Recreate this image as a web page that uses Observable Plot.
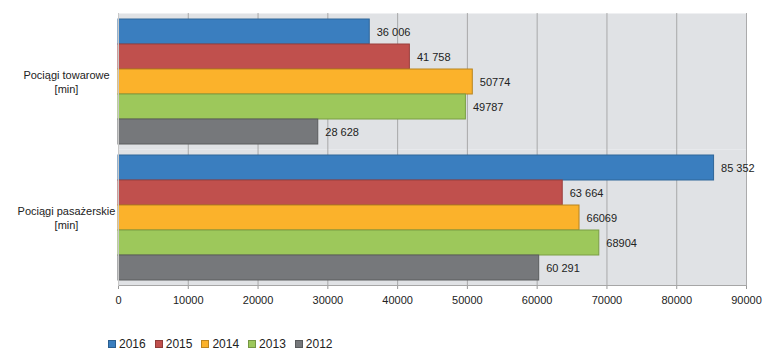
<!DOCTYPE html>
<html>
<head>
<meta charset="utf-8">
<script src="https://cdn.jsdelivr.net/npm/d3@7"></script>
<script src="https://cdn.jsdelivr.net/npm/@observablehq/plot@0.6"></script>
<style>
  body { margin: 0; background: #fff; font-family: "Liberation Sans", Arial, sans-serif; }
  #legend { display: flex; gap: 0; padding-left: 108px; padding-top: 17px; font-size: 12px; color: #222; }
  .item { display: flex; align-items: center; margin-right: 9px; }
  .sw { width: 8px; height: 8px; margin-right: 3px; box-sizing: border-box; border: 1px solid rgba(0,0,0,0.25); }
</style>
</head>
<body>
<div id="chart"></div>
<div id="legend"></div>
<script>
const categories = ["Pociągi towarowe\n[min]", "Pociągi pasażerskie\n[min]"];
const years = ["2016", "2015", "2014", "2013", "2012"];
const towarowe = [36006, 41758, 50774, 49787, 28628];
const pasazerskie = [85352, 63664, 66069, 68904, 60291];
const labelsTowarowe = ["36 006", "41 758", "50774", "49787", "28 628"];
const labelsPasazerskie = ["85 352", "63 664", "66069", "68904", "60 291"];
const colors = ["#3a7ebf", "#c0504d", "#fbb22b", "#9dc85b", "#76787b"];
const strokes = ["#2f6699", "#9a3f3d", "#b8841f", "#7a9e45", "#5a5c5e"];
const xTicks = [0, 10000, 20000, 30000, 40000, 50000, 60000, 70000, 80000, 90000];

const data = [];
years.forEach((y, i) => {
  data.push({cat: categories[0], year: y, value: towarowe[i], label: labelsTowarowe[i]});
  data.push({cat: categories[1], year: y, value: pasazerskie[i], label: labelsPasazerskie[i]});
});

const chart = Plot.plot({
  width: 776,
  height: 320,
  marginLeft: 118,
  marginRight: 30,
  marginTop: 12,
  marginBottom: 35,
  style: {fontFamily: "Liberation Sans, Arial, sans-serif", fontSize: "11px", color: "#222", background: "#fff"},
  x: {domain: [0, 90000], ticks: xTicks, tickFormat: d => String(d), label: null},
  y: {domain: years, axis: null, paddingInner: 0, paddingOuter: 0.2},
  fy: {domain: categories, padding: 0, label: null},
  color: {domain: years, range: colors},
  marks: [
    Plot.frame({fill: "#e0e2e5", stroke: null}),
    Plot.gridX(xTicks, {stroke: "#9a9a9a", strokeOpacity: 0.8, strokeWidth: 1}),
    Plot.barX(data, {
      fy: "cat", y: "year", x: "value", fill: "year",
      stroke: d => strokes[years.indexOf(d.year)], strokeWidth: 1
    }),
    Plot.text(data, {
      fy: "cat", y: "year", x: "value", text: "label",
      textAnchor: "start", dx: 7, fill: "#222", fontSize: 11
    }),
    Plot.axisFy({anchor: "left", tickSize: 0, tickPadding: 52, textAnchor: "middle", fontSize: 11, lineHeight: 1.3, label: null}),
    Plot.axisX({ticks: xTicks, tickFormat: d => String(d), tickSize: 4, tickPadding: 7, stroke: "#999", fontSize: 11, label: null}),
    Plot.frame({anchor: "bottom", stroke: "#a6a6a6", facetAnchor: "bottom"}),
    Plot.frame({anchor: "left", stroke: "#c8c8c8"})
  ]
});
document.getElementById("chart").appendChild(chart);

const legend = document.getElementById("legend");
years.forEach((y, i) => {
  const item = document.createElement("div");
  item.className = "item";
  const sw = document.createElement("span");
  sw.className = "sw";
  sw.style.background = colors[i];
  const t = document.createElement("span");
  t.textContent = y;
  item.appendChild(sw);
  item.appendChild(t);
  legend.appendChild(item);
});
</script>
</body>
</html>
